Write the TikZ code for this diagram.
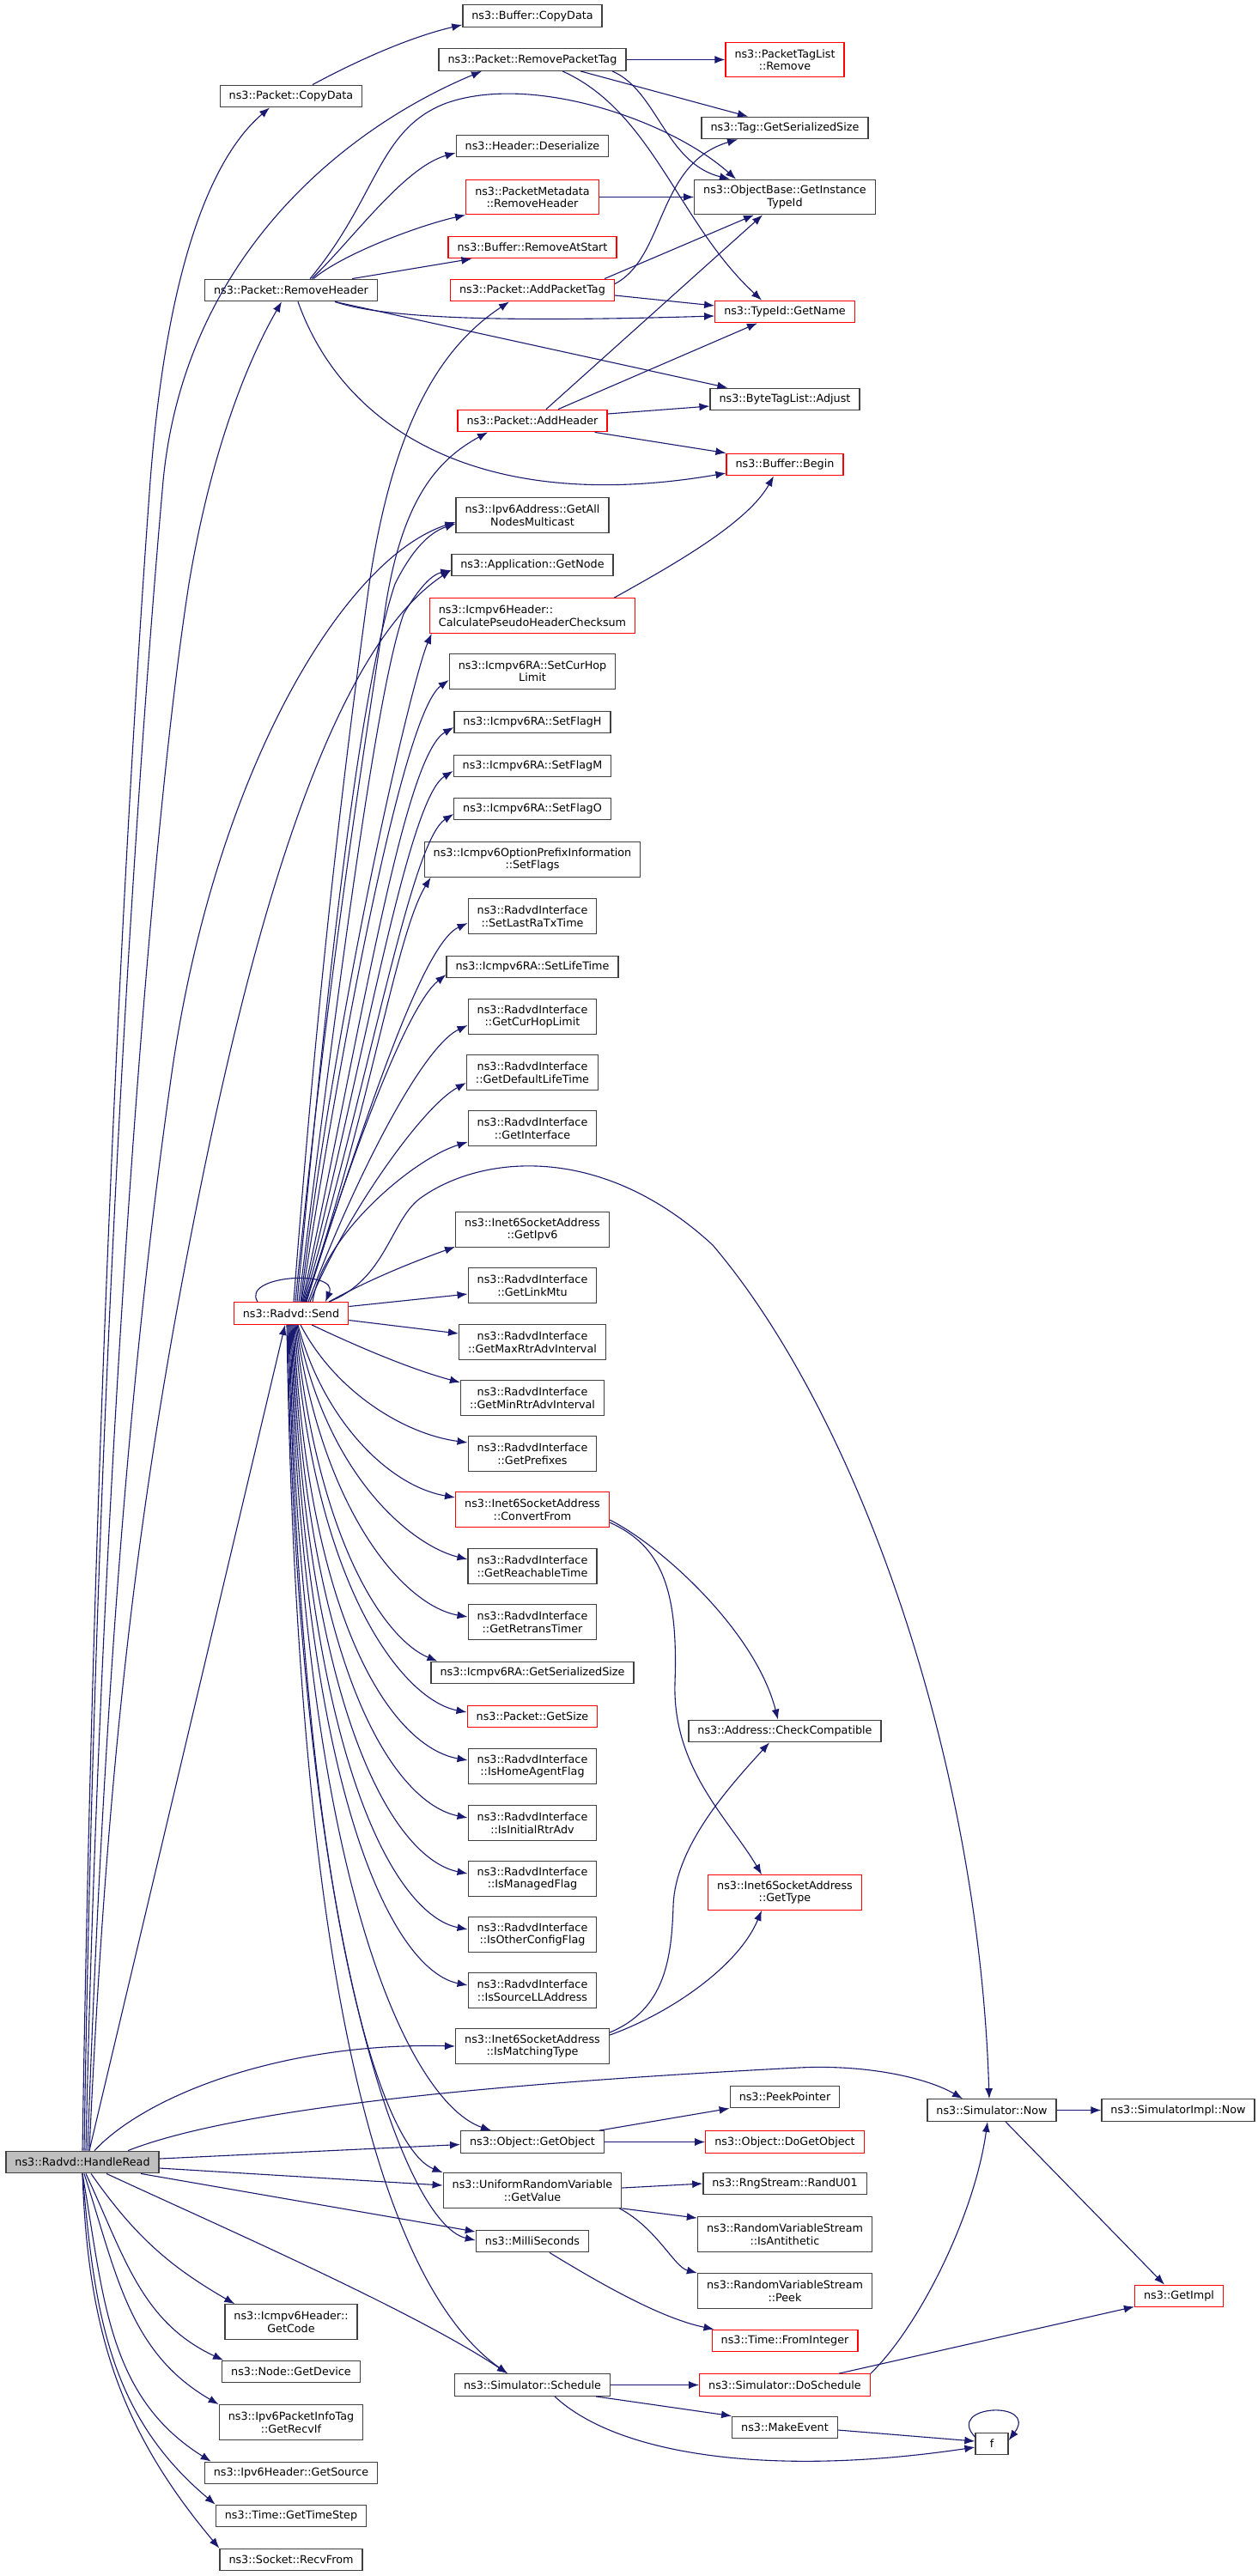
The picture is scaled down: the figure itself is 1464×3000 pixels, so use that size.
\documentclass[tikz,border=0pt]{standalone}
\usepackage{fontspec}
\setmainfont{DejaVu Sans}
\usetikzlibrary{arrows.meta}
\definecolor{edgeblue}{RGB}{25,25,112}
\definecolor{rootgray}{RGB}{191,191,191}

\begin{document}
\begin{tikzpicture}[x=1pt,y=1pt]
  \tikzset{fn/.style={draw=black!75, fill=white, line width=1.3pt, align=center,
      font=\fontsize{12.75}{14.5}\selectfont, inner xsep=10.5pt, inner ysep=2pt,
      minimum height=25.5pt},
    fnred/.style={fn, draw=red},
    fnroot/.style={fn, fill=rootgray},
    tall/.style={minimum height=40.5pt},
    call/.style={draw=edgeblue, line width=1.1pt, -{Latex[length=12pt,width=9pt]}}
  }

  \fill[white] (0,0) rectangle (1464,-3000);
  \useasboundingbox (0,0) rectangle (1464,-3000);

  % left column
  \node[fnroot] (read) at (96,-2518) {ns3::Radvd::HandleRead};
  \node[fn] (pcopy) at (339,-112) {ns3::Packet::CopyData};
  \node[fn] (premh) at (339,-338) {ns3::Packet::RemoveHeader};
  \node[fnred] (send) at (339,-1529.5) {ns3::Radvd::Send};
  \node[fn, tall] (getcode) at (339,-2704) {ns3::Icmpv6Header::\\GetCode};
  \node[fn] (getdev) at (339,-2762) {ns3::Node::GetDevice};
  \node[fn, tall] (recvif) at (339,-2821) {ns3::Ipv6PacketInfoTag\\::GetRecvIf};
  \node[fn] (getsrc) at (339,-2880) {ns3::Ipv6Header::GetSource};
  \node[fn] (timestep) at (339,-2930) {ns3::Time::GetTimeStep};
  \node[fn] (recvfrom) at (339,-2981) {ns3::Socket::RecvFrom};

  % middle column
  \node[fn] (bcopy) at (620,-18.5) {ns3::Buffer::CopyData};
  \node[fn] (rmtag) at (620,-69.5) {ns3::Packet::RemovePacketTag};
  \node[fn] (hdes) at (620,-170) {ns3::Header::Deserialize};
  \node[fnred, tall] (pmrm) at (620,-229.5) {ns3::PacketMetadata\\::RemoveHeader};
  \node[fnred] (brm) at (620,-288) {ns3::Buffer::RemoveAtStart};
  \node[fnred] (addtag) at (620,-338) {ns3::Packet::AddPacketTag};
  \node[fnred] (addhdr) at (620,-490) {ns3::Packet::AddHeader};
  \node[fn, tall] (allnodes) at (620,-600) {ns3::Ipv6Address::GetAll\\NodesMulticast};
  \node[fn] (getnode) at (620,-658) {ns3::Application::GetNode};
  \node[fnred, tall, align=left] (cksum) at (620,-717) {ns3::Icmpv6Header::\\CalculatePseudoHeaderChecksum};
  \node[fn, tall] (curhop) at (620,-782) {ns3::Icmpv6RA::SetCurHop\\Limit};
  \node[fn] (flagh) at (620,-841) {ns3::Icmpv6RA::SetFlagH};
  \node[fn] (flagm) at (620,-892) {ns3::Icmpv6RA::SetFlagM};
  \node[fn] (flago) at (620,-942) {ns3::Icmpv6RA::SetFlagO};
  \node[fn, tall] (setflags) at (620,-1001) {ns3::Icmpv6OptionPrefixInformation\\::SetFlags};
  \node[fn, tall] (lastra) at (620,-1067) {ns3::RadvdInterface\\::SetLastRaTxTime};
  \node[fn] (lifetime) at (620,-1126) {ns3::Icmpv6RA::SetLifeTime};
  \node[fn, tall] (getcurhop) at (620,-1184) {ns3::RadvdInterface\\::GetCurHopLimit};
  \node[fn, tall] (deflife) at (620,-1249) {ns3::RadvdInterface\\::GetDefaultLifeTime};
  \node[fn, tall] (getif) at (620,-1314) {ns3::RadvdInterface\\::GetInterface};
  \node[fn, tall] (getipv6) at (620,-1432) {ns3::Inet6SocketAddress\\::GetIpv6};
  \node[fn, tall] (linkmtu) at (620,-1497) {ns3::RadvdInterface\\::GetLinkMtu};
  \node[fn, tall] (maxrtr) at (620,-1563) {ns3::RadvdInterface\\::GetMaxRtrAdvInterval};
  \node[fn, tall] (minrtr) at (620,-1628) {ns3::RadvdInterface\\::GetMinRtrAdvInterval};
  \node[fn, tall] (prefixes) at (620,-1693) {ns3::RadvdInterface\\::GetPrefixes};
  \node[fnred, tall] (convfrom) at (620,-1758) {ns3::Inet6SocketAddress\\::ConvertFrom};
  \node[fn, tall] (reach) at (620,-1824) {ns3::RadvdInterface\\::GetReachableTime};
  \node[fn, tall] (retrans) at (620,-1889) {ns3::RadvdInterface\\::GetRetransTimer};
  \node[fn] (rasize) at (620,-1948) {ns3::Icmpv6RA::GetSerializedSize};
  \node[fnred] (getsize) at (620,-1999) {ns3::Packet::GetSize};
  \node[fn, tall] (homeag) at (620,-2057) {ns3::RadvdInterface\\::IsHomeAgentFlag};
  \node[fn, tall] (initrtr) at (620,-2123) {ns3::RadvdInterface\\::IsInitialRtrAdv};
  \node[fn, tall] (managed) at (620,-2188) {ns3::RadvdInterface\\::IsManagedFlag};
  \node[fn, tall] (otherconf) at (620,-2253) {ns3::RadvdInterface\\::IsOtherConfigFlag};
  \node[fn, tall] (sourcell) at (620,-2318) {ns3::RadvdInterface\\::IsSourceLLAddress};
  \node[fn, tall] (matching) at (620,-2383) {ns3::Inet6SocketAddress\\::IsMatchingType};
  \node[fn] (getobj) at (620,-2494.5) {ns3::Object::GetObject};
  \node[fn, tall] (getval) at (620,-2551) {ns3::UniformRandomVariable\\::GetValue};
  \node[fn] (milli) at (620,-2610) {ns3::MilliSeconds};
  \node[fn] (schedule) at (620,-2777.5) {ns3::Simulator::Schedule};

  % right column
  \node[fnred, tall] (tlrm) at (914,-69.5) {ns3::PacketTagList\\::Remove};
  \node[fn] (tagsize) at (914,-149) {ns3::Tag::GetSerializedSize};
  \node[fn, tall] (instid) at (914,-229.5) {ns3::ObjectBase::GetInstance\\TypeId};
  \node[fnred] (getname) at (914,-363) {ns3::TypeId::GetName};
  \node[fn] (adjust) at (914,-465) {ns3::ByteTagList::Adjust};
  \node[fnred] (bbegin) at (914,-541) {ns3::Buffer::Begin};
  \node[fn] (checkcomp) at (914,-2016) {ns3::Address::CheckCompatible};
  \node[fnred, tall] (gettype) at (914,-2204) {ns3::Inet6SocketAddress\\::GetType};
  \node[fn] (peek) at (914,-2442) {ns3::PeekPointer};
  \node[fnred] (dogetobj) at (914,-2494.5) {ns3::Object::DoGetObject};
  \node[fn] (randu) at (914,-2543) {ns3::RngStream::RandU01};
  \node[fn, tall] (anti) at (914,-2602) {ns3::RandomVariableStream\\::IsAntithetic};
  \node[fn, tall] (peekrv) at (914,-2668) {ns3::RandomVariableStream\\::Peek};
  \node[fnred] (fromint) at (914,-2726) {ns3::Time::FromInteger};
  \node[fnred] (dosched) at (914,-2777.5) {ns3::Simulator::DoSchedule};
  \node[fn] (makeev) at (914,-2827) {ns3::MakeEvent};
  \node[fn] (now) at (1155,-2457.5) {ns3::Simulator::Now};
  \node[fn, minimum width=38pt] (f) at (1155,-2846) {f};
  \node[fn] (implnow) at (1372,-2457.5) {ns3::SimulatorImpl::Now};
  \node[fnred] (getimpl) at (1373,-2674) {ns3::GetImpl};

  % packet calls at the top
  \draw[call] ([xshift=25pt]pcopy.north) .. controls (404,-77) and (470,-45) .. ([yshift=3pt]bcopy.south west);
  \draw[call] (rmtag) -- (tlrm);
  \draw[call] ([xshift=56pt]rmtag.south) -- ([xshift=-43pt]tagsize.north);
  \draw[call] ([xshift=93pt]rmtag.south) .. controls (765,-105) and (775,-190) .. ([xshift=-64pt]instid.north);
  \draw[call] ([xshift=35pt]rmtag.south) .. controls (760,-130) and (790,-260) .. ([xshift=-27pt]getname.north);
  \draw[call] ([xshift=24pt]premh.north) .. controls (410,-280) and (470,-195) .. ([yshift=-8pt]hdes.west);
  \draw[call] ([xshift=26pt]premh.north) .. controls (400,-295) and (490,-262) .. (pmrm.south west);
  \draw[call] ([xshift=71pt]premh.north) -- ([xshift=28pt]brm.south west);
  \draw[call] ([xshift=22pt]premh.north) .. controls (440,-230) and (440,-150) .. (520,-120)
    .. controls (620,-85) and (780,-140) .. ([xshift=-57pt]instid.north);
  \draw[call] ([xshift=51pt]premh.south) .. controls (450,-372) and (600,-375) .. ([yshift=-5pt]getname.west);
  \draw[call] ([xshift=51pt]premh.south) -- ([xshift=21pt]adjust.north west);
  \draw[call] ([xshift=8pt]premh.south) .. controls (400,-500) and (560,-600) .. ([yshift=-10pt]bbegin.west);
  \draw[call] (pmrm) -- (instid);
  \draw[call] ([yshift=-6pt]addtag.north east) .. controls (775,-300) and (765,-190) .. ([xshift=-55pt]tagsize.south);
  \draw[call] ([xshift=84pt]addtag.north) -- ([xshift=-36pt]instid.south);
  \draw[call] ([yshift=-6pt]addtag.east) -- ([yshift=7pt]getname.west);
  \draw[call] ([xshift=16pt]addhdr.north) -- ([xshift=-26pt]instid.south);
  \draw[call] ([xshift=30pt]addhdr.north) -- ([xshift=-32pt]getname.south);
  \draw[call] ([yshift=8pt]addhdr.east) -- ([yshift=-8pt]adjust.west);
  \draw[call] ([xshift=-15pt]addhdr.south east) -- (bbegin.north west);
  \draw[call] ([xshift=-25pt]cksum.north east) .. controls (780,-660) and (870,-610) .. ([xshift=-13pt]bbegin.south);

  % HandleRead
  \draw[call] (read.north) .. controls (110,-1600) and (150,-900) .. (175,-560)
    .. controls (195,-300) and (250,-180) .. ([xshift=-25pt]pcopy.south);
  \draw[call] ([xshift=2pt]read.north) .. controls (112,-1600) and (160,-900) .. (190,-560)
    .. controls (215,-300) and (400,-150) .. ([xshift=-59pt]rmtag.south);
  \draw[call] ([xshift=4pt]read.north) .. controls (115,-1800) and (170,-1000) .. (220,-680)
    .. controls (250,-500) and (300,-400) .. ([xshift=-11pt]premh.south);
  \draw[call] ([xshift=6pt]read.north) .. controls (120,-2000) and (150,-1600) .. (200,-1250)
    .. controls (250,-900) and (400,-650) .. ([yshift=-8pt]allnodes.west);
  \draw[call] ([xshift=8pt]read.north) .. controls (125,-2050) and (160,-1750) .. (230,-1400)
    .. controls (290,-1100) and (380,-760) .. ([yshift=-6pt]getnode.west);
  \draw[call] ([xshift=8pt]read.north) -- ([xshift=-7pt]send.south);
  \draw[call] ([xshift=14pt]read.north) .. controls (170,-2440) and (330,-2378) .. (matching.west);
  \draw[call] ([xshift=53pt]read.north) .. controls (300,-2445) and (700,-2420) .. (930,-2408)
    .. controls (1010,-2404) and (1080,-2420) .. ([xshift=-34pt]now.north);
  \draw[call] ([yshift=4pt]read.east) -- ([yshift=-3pt]getobj.west);
  \draw[call] ([yshift=-7pt]read.east) -- ([yshift=6pt]getval.west);
  \draw[call] ([xshift=68pt]read.south) -- ([yshift=11pt]milli.west);
  \draw[call] ([xshift=28pt]read.south) .. controls (250,-2590) and (480,-2690) .. ([xshift=-29pt]schedule.north);
  \draw[call] ([xshift=10pt]read.south) to[out=-55,in=150] ([xshift=12pt]getcode.north west);
  \draw[call] ([xshift=4pt]read.south) to[out=-65,in=155] ([xshift=2pt]getdev.north west);
  \draw[call] ([xshift=2pt]read.south) to[out=-72,in=150] (recvif.north west);
  \draw[call] (read.south) to[out=-80,in=148] ([xshift=8pt]getsrc.north west);
  \draw[call] (read.south) to[out=-85,in=140] (timestep.north west);
  \draw[call] (read.south) to[out=-88,in=130] (recvfrom.north west);

  % Send, upwards
  \draw[call] ([xshift=-39pt]send.north) .. controls (280,-1485) and (395,-1478) .. ([xshift=40pt]send.north);
  \draw[call] ([xshift=3pt]send.north) .. controls (370,-1150) and (400,-900) .. (430,-680)
    .. controls (460,-480) and (520,-400) .. ([xshift=-27pt]addtag.south);
  \draw[call] ([xshift=5pt]send.north) .. controls (380,-1150) and (420,-900) .. (450,-700)
    .. controls (470,-580) and (510,-535) .. ([xshift=-52pt]addhdr.south);
  \draw[call] ([xshift=7pt]send.north) .. controls (385,-1100) and (420,-800) .. (460,-680)
    .. controls (480,-640) and (500,-620) .. ([yshift=-10pt]allnodes.west);
  \draw[call] ([xshift=9pt]send.north) .. controls (400,-1100) and (440,-800) .. (470,-715)
    .. controls (485,-690) and (500,-670) .. ([yshift=-6pt]getnode.west);
  \draw[call] ([xshift=11pt]send.north) .. controls (395,-1150) and (480,-790) .. ([xshift=3pt]cksum.south west);
  \draw[call] ([xshift=12pt]send.north) .. controls (400,-1200) and (470,-830) .. ([yshift=-10pt]curhop.west);
  \draw[call] ([xshift=13pt]send.north) .. controls (420,-1200) and (470,-880) .. ([yshift=-6pt]flagh.west);
  \draw[call] ([xshift=14pt]send.north) .. controls (425,-1230) and (475,-930) .. ([yshift=-6pt]flagm.west);
  \draw[call] ([xshift=15pt]send.north) .. controls (430,-1260) and (478,-980) .. ([yshift=-6pt]flago.west);
  \draw[call] ([xshift=16pt]send.north) .. controls (430,-1300) and (460,-1090) .. ([xshift=8pt]setflags.south west);
  \draw[call] ([xshift=17pt]send.north) .. controls (420,-1320) and (490,-1100) .. ([yshift=-8pt]lastra.west);
  \draw[call] ([xshift=18pt]send.north) .. controls (410,-1340) and (475,-1170) .. ([yshift=-9pt]lifetime.west);
  \draw[call] ([xshift=20pt]send.north) .. controls (410,-1380) and (490,-1220) .. ([yshift=-10pt]getcurhop.west);
  \draw[call] ([xshift=22pt]send.north) .. controls (400,-1420) and (490,-1290) .. ([yshift=-12pt]deflife.west);
  \draw[call] ([xshift=25pt]send.north) .. controls (375,-1440) and (480,-1350) .. ([yshift=-16pt]getif.west);
  \draw[call] ([xshift=44pt]send.north) .. controls (430,-1490) and (480,-1470) .. ([yshift=-20pt]getipv6.west);
  \draw[call] ([yshift=8pt]send.east) -- ([yshift=-10pt]linkmtu.west);
  \draw[call] ([xshift=44pt]send.north) .. controls (450,-1490) and (455,-1420) .. (490,-1395)
    .. controls (560,-1345) and (700,-1330) .. (830,-1450)
    .. controls (1000,-1650) and (1140,-2050) .. ([xshift=-3pt]now.north);

  % Send, downwards
  \draw[call] ([yshift=-8pt]send.east) -- ([yshift=10pt]maxrtr.west);
  \draw[call] ([xshift=24pt]send.south) .. controls (420,-1570) and (480,-1595) .. ([yshift=18pt]minrtr.west);
  \draw[call] ([xshift=11pt]send.south) .. controls (390,-1620) and (470,-1670) .. ([yshift=13pt]prefixes.west);
  \draw[call] ([xshift=8pt]send.south) .. controls (375,-1650) and (450,-1730) .. ([yshift=14pt]convfrom.west);
  \draw[call] ([xshift=7pt]send.south) .. controls (380,-1720) and (480,-1800) .. ([yshift=8pt]reach.west);
  \draw[call] ([xshift=6pt]send.south) .. controls (375,-1760) and (470,-1870) .. ([yshift=6pt]retrans.west);
  \draw[call] ([xshift=5pt]send.south) .. controls (370,-1800) and (450,-1910) .. ([xshift=8pt]rasize.north west);
  \draw[call] ([xshift=4pt]send.south) .. controls (365,-1850) and (470,-1980) .. ([yshift=5pt]getsize.west);
  \draw[call] ([xshift=3pt]send.south) .. controls (360,-1900) and (460,-2035) .. ([yshift=7pt]homeag.west);
  \draw[call] ([xshift=2pt]send.south) .. controls (358,-1950) and (460,-2100) .. ([yshift=6pt]initrtr.west);
  \draw[call] ([xshift=1pt]send.south) .. controls (356,-2000) and (460,-2165) .. ([yshift=6pt]managed.west);
  \draw[call] (send.south) .. controls (354,-2050) and (460,-2230) .. ([yshift=6pt]otherconf.west);
  \draw[call] ([xshift=-1pt]send.south) .. controls (352,-2100) and (460,-2295) .. ([yshift=6pt]sourcell.west);
  \draw[call] ([xshift=-2pt]send.south) .. controls (350,-2200) and (480,-2450) .. ([xshift=-48pt]getobj.north);
  \draw[call] ([xshift=-3pt]send.south) .. controls (350,-2200) and (440,-2500) .. (getval.north west);
  \draw[call] ([xshift=-4pt]send.south) .. controls (345,-2250) and (470,-2590) .. ([yshift=1pt]milli.west);
  \draw[call] ([xshift=-5pt]send.south) .. controls (345,-2250) and (430,-2650) .. ([xshift=-29pt]schedule.north);

  % addresses
  \draw[call] ([yshift=-12pt]convfrom.east) .. controls (770,-1800) and (880,-1900) .. ([xshift=-8pt]checkcomp.north);
  \draw[call] ([yshift=-15pt]convfrom.east) .. controls (770,-1800) and (790,-1850) .. (786,-1960)
    .. controls (783,-2060) and (850,-2120) .. ([xshift=-27pt]gettype.north);
  \draw[call] ([yshift=16pt]matching.east) .. controls (775,-2340) and (782,-2280) .. (784,-2220)
    .. controls (786,-2150) and (850,-2080) .. ([xshift=-18pt]checkcomp.south);
  \draw[call] ([yshift=13pt]matching.east) .. controls (780,-2345) and (860,-2290) .. ([xshift=-27pt]gettype.south);

  % simulator and random variables
  \draw[call] (now) -- (implnow);
  \draw[call] ([xshift=16pt]now.south) -- ([xshift=-17pt]getimpl.north);
  \draw[call] ([xshift=-6pt]getobj.north east) -- (peek.south west);
  \draw[call] (getobj) -- (dogetobj);
  \draw[call] ([yshift=3pt]getval.east) -- (randu.west);
  \draw[call] (getval.south east) -- ([yshift=-2pt]anti.north west);
  \draw[call] ([xshift=-3pt]getval.south east) .. controls (765,-2595) and (785,-2640) .. (peekrv.north west);
  \draw[call] ([xshift=20pt]milli.south) .. controls (700,-2660) and (770,-2700) .. ([xshift=3pt]fromint.north west);
  \draw[call] (schedule) -- (dosched);
  \draw[call] ([xshift=-17pt]schedule.south east) -- (makeev.north west);
  \draw[call] ([xshift=26pt]schedule.south) .. controls (720,-2860) and (900,-2885) .. ([yshift=-4pt]f.west);
  \draw[call] ([yshift=-3pt]makeev.east) -- ([yshift=3pt]f.west);
  \draw[call] ([yshift=8pt]f.west) .. controls (1100,-2800) and (1210,-2795) .. ([yshift=4pt]f.east);
  \draw[call] (dosched.north east) .. controls (1070,-2710) and (1135,-2580) .. ([xshift=-5pt]now.south);
  \draw[call] ([xshift=63pt]dosched.north) -- ([yshift=1pt]getimpl.south west);
\end{tikzpicture}
\end{document}
